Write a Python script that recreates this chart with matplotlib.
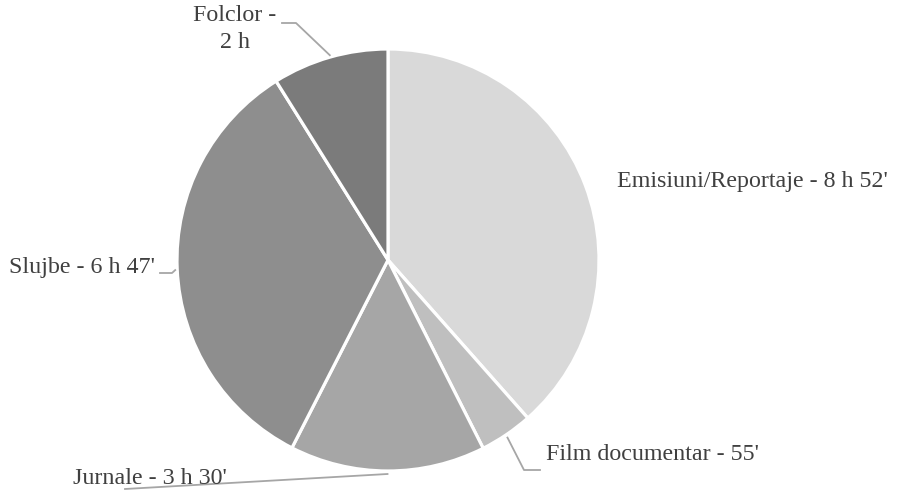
import numpy as np
import matplotlib
matplotlib.use('Agg')
import matplotlib.pyplot as plt

# wedge sizes (minutes) and their labels
categories = ['Emisiuni/Reportaje', 'Film documentar', 'Jurnale', 'Slujbe', 'Folclor']
minutes = [519, 55, 202, 453, 120]
labels = ["Emisiuni/Reportaje - 8 h 52'", "Film documentar - 55'",
          "Jurnale - 3 h 30'", "Slujbe - 6 h 47'", "Folclor -\n2 h"]
colors = ['#d9d9d9', '#bfbfbf', '#a6a6a6', '#8e8e8e', '#7b7b7b']

plt.rcParams['font.family'] = ['Liberation Serif', 'DejaVu Serif']

fig = plt.figure(figsize=(9, 4.92), dpi=100)
ax = fig.add_axes([0, 0, 1, 1])

cx, cy, r = 388, 260, 211
wedges, _ = ax.pie(minutes, colors=colors, startangle=270, counterclock=True,
                   center=(cx, cy), radius=r,
                   wedgeprops=dict(edgecolor='white', linewidth=2.3))
ax.set_xlim(0, 900)
ax.set_ylim(492, 0)
ax.set_aspect('auto')
ax.axis('off')

def edge_point(w):
    a = np.deg2rad((w.theta1 + w.theta2) / 2)
    return cx + r * np.cos(a), cy + r * np.sin(a)

txt = dict(fontsize=17.3, color='#404040')
line = dict(color='#a6a6a6', lw=1.3)

# Emisiuni - no leader
ax.text(617, 181, labels[0], ha='left', va='center', **txt)

# Film documentar
ex, ey = edge_point(wedges[1])
ax.plot([ex + 1, 524, 540], [ey + 3, 470, 470], **line)
ax.text(546, 455, labels[1], ha='left', va='center', **txt)

# Jurnale
ex, ey = edge_point(wedges[2])
ax.plot([ex, 125], [ey + 3, 489], **line)
ax.text(73, 478, labels[2], ha='left', va='center', **txt)

# Slujbe
ex, ey = edge_point(wedges[3])
ax.plot([ex - 2, 172, 160], [ey + 1, 273, 273], **line)
ax.text(155, 268, labels[3], ha='right', va='center', **txt)

# Folclor
ex, ey = edge_point(wedges[4])
ax.plot([ex, 296, 282], [ey - 2, 23, 23], **line)
ax.text(235, 29, labels[4], ha='center', va='center', linespacing=1.4, **txt)

fig.savefig('out.png', dpi=100, facecolor='white')
